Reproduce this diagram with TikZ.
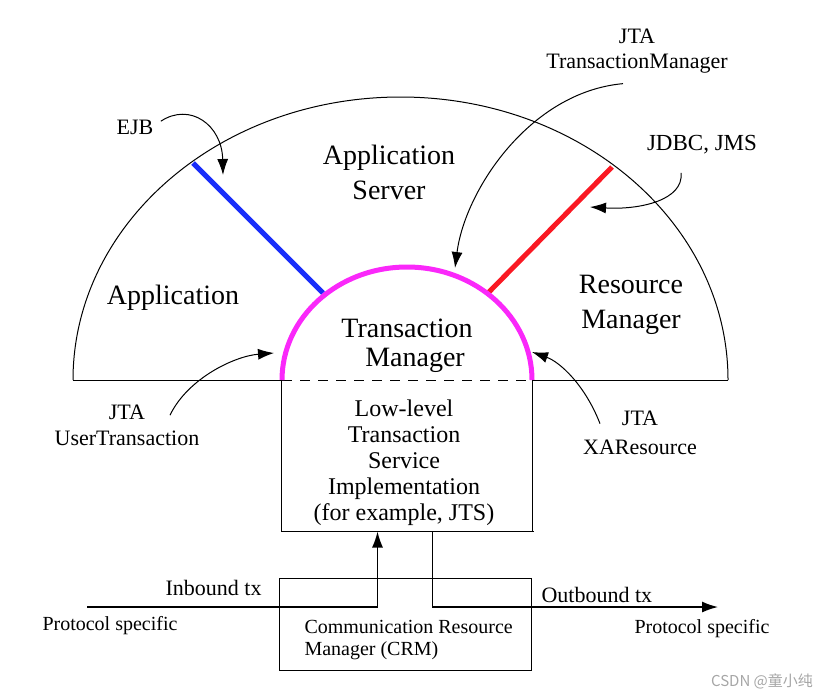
\documentclass[tikz,border=0pt]{standalone}
\usepackage{fontspec}
\setmainfont{Liberation Serif}
\newfontfamily\cjk{Noto Sans CJK SC}
\usetikzlibrary{arrows.meta}
\definecolor{tmpink}{RGB}{250,40,250}
\definecolor{ejbblue}{RGB}{25,45,250}
\definecolor{rmred}{RGB}{250,25,35}

\begin{document}
\begin{tikzpicture}[x=0.5pt, y=-0.5pt, line width=0.5pt,
  big/.style={font=\fontsize{14}{17.5}\selectfont, align=center, inner sep=0pt},
  small/.style={font=\fontsize{11}{12.5}\selectfont, align=center, inner sep=0pt},
  proto/.style={font=\fontsize{10}{12}\selectfont, inner sep=0pt},
  boxtext/.style={font=\fontsize{12}{13}\selectfont, align=center, inner sep=0pt},
  ptr/.style={-{Latex[length=8pt,width=5.5pt]}},
  flow/.style={line width=0.7pt}]
  \useasboundingbox (0,0) rectangle (828,698);
  % the two half circles
  \draw (73,380) arc[start angle=180, end angle=0, x radius=163.75pt, y radius=141.5pt];
  \draw (73,380) -- (282,380);
  \draw (532,380) -- (728,380);
  \draw[dashed, dash pattern=on 5pt off 4pt] (282,380) -- (532,380);
  \draw[ejbblue, line width=2.5pt] (193,163) -- (323,293);
  \draw[rmred, line width=2.5pt] (612,167) -- (488,293);
  \draw[tmpink, line width=2.5pt] (282,380) arc[start angle=180, end angle=0, x radius=62.5pt, y radius=56.5pt];
  \node[big] at (173,298) (app) {Application};
  \node[big] at (389,172) (appsrv) {Application\\Server};
  \node[big] at (631,305) (rm) {Resource\\Manager};
  \node[big, font=\fontsize{14}{14.5}\selectfont] at (407,346) (tm) {Transaction\\\hspace*{8pt}Manager};
  % low level box and CRM
  \node[minimum width=125pt, minimum height=75.5pt, inner sep=0pt] at (406.5,455.5) (lts) {};
  \draw (lts.north west) |- ([xshift=1pt]lts.south east);
  \draw (lts.north east) -- (lts.south east);
  \node[boxtext] at (404,463) (ltstext) {Low-level\\Transaction\\Service\\Implementation\\(for example, JTS)};
  \node[draw, minimum width=126pt, minimum height=46pt, inner sep=0pt] at (405.5,624) (crm) {};
  \node[font=\fontsize{10}{11}\selectfont, align=left, anchor=west, inner sep=0pt] at (304,640) (crmtext) {Communication Resource\\Manager (CRM)};
  \coordinate (inb) at (87,607);
  \coordinate (outb) at (718,607);
  \draw[flow, ptr] (inb) -| ([xshift=-14.5pt]lts.south);
  \draw[flow, ptr] ([xshift=13pt]lts.south) |- (outb);
  \node[small, anchor=east] at (262,588) (intx) {Inbound tx};
  \node[proto, anchor=west] at (42,626) (inps) {Protocol specific};
  \node[small, anchor=west] at (541,595) (outtx) {Outbound tx};
  \node[proto, anchor=west] at (634,629) (outps) {Protocol specific};
  % api labels
  \node[small] at (135,127) (ejb) {EJB};
  \node[small] at (637,51) (jtatm) {JTA\\TransactionManager};
  \node[small, font=\fontsize{11.5}{12.5}\selectfont] at (702,145) (jdbc) {JDBC, JMS};
  \node[small, font=\fontsize{11}{13}\selectfont] at (127,425) (jtaut) {JTA\\UserTransaction};
  \node[small, font=\fontsize{11}{14.5}\selectfont] at (640,433) (jtaxa) {JTA\\XAResource};
  \coordinate (ejbtip) at (223,175);
  \coordinate (tmtip) at (455,268);
  \coordinate (jdbctip) at (590,207);
  \coordinate (uttip) at (274,353);
  \coordinate (xatip) at (532,352);
  \draw[ptr] ([xshift=3.5pt,yshift=-1pt]ejb.north east) .. controls (190,102) and (222,125) .. (ejbtip);
  \draw[ptr] ([xshift=-7pt,yshift=-5pt]jtatm.south) .. controls (530,92) and (465,190) .. (tmtip);
  \draw[ptr] ([xshift=-10.5pt,yshift=-9pt]jdbc.south) .. controls (684,200) and (640,210) .. (jdbctip);
  \draw[ptr] ([xshift=21.5pt,yshift=-5.5pt]jtaut.north) .. controls (188,378) and (235,356) .. (uttip);
  \draw[ptr] ([xshift=-20pt,yshift=-6.5pt]jtaxa.north) .. controls (585,385) and (560,362) .. (xatip);
  \node[font=\cjk\fontsize{7.5}{9}\selectfont, text=gray!70, inner sep=0pt] at (762,681) (mark) {CSDN @童小纯};
\end{tikzpicture}
\end{document}
